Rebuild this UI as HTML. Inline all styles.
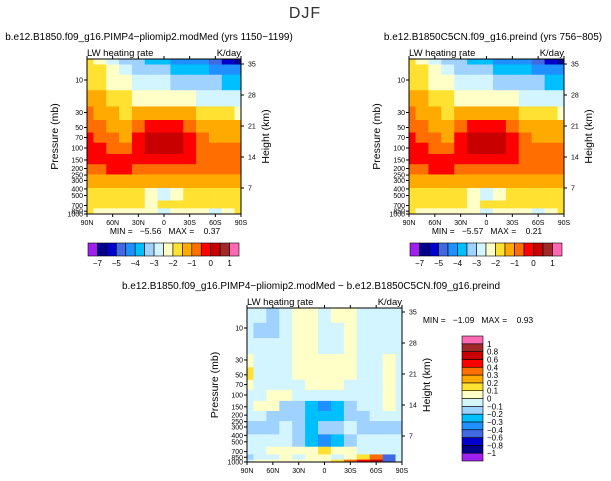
<!DOCTYPE html>
<html><head><meta charset="utf-8">
<style>
html,body{margin:0;padding:0;background:#fff;}
svg{display:block;font-family:"Liberation Sans",sans-serif;}
text{fill:#000;}
</style></head>
<body>
<svg id="chart" width="611" height="481" viewBox="0 0 611 481">
<text x="305" y="18" font-size="16" text-anchor="middle" style="letter-spacing:1px;fill:#333">DJF</text>
<g id="root"></g>
</svg>
<script>
const NS='http://www.w3.org/2000/svg';
const pressureLevels=[5,7,10,20,30,50,70,100,150,200,300,500,700,850,1000];
const latitudes=[90,75,60,45,30,15,0,-15,-30,-45,-60,-75,-90];
const pliValues=[
[-1.8,-2.2,-2.7,-3.2,-3.3,-3.7,-3.8,-4.2,-4.2,-4.3,-4.7,-5.5,-6.2],
[-1.7,-2.0,-2.4,-2.8,-3.1,-3.3,-3.4,-3.6,-3.8,-3.9,-4.1,-4.3,-4.4],
[-1.6,-1.8,-2.1,-2.4,-2.7,-2.9,-3.0,-3.1,-3.2,-3.3,-3.4,-3.6,-3.7],
[-1.3,-1.4,-1.7,-1.9,-2.1,-2.3,-2.4,-2.4,-2.5,-2.6,-2.6,-2.7,-2.7],
[-0.9,-1.1,-1.5,-1.6,-1.3,-1.2,-1.2,-1.3,-1.5,-1.7,-1.9,-2.0,-2.1],
[-0.7,-0.9,-1.1,-1.3,-0.6,-0.4,-0.4,-0.4,-0.6,-1.1,-1.3,-1.4,-1.4],
[-0.4,-0.6,-0.8,-1.1,-0.4,0.1,0.2,0.2,-0.3,-0.9,-1.1,-1.2,-1.2],
[-0.4,-0.5,-0.6,-0.9,-0.3,0.1,0.2,0.1,-0.3,-0.6,-0.9,-1.0,-1.0],
[-0.3,-0.3,-0.3,-0.3,-0.3,-0.3,-0.3,-0.3,-0.3,-0.6,-0.8,-0.9,-0.9],
[-0.6,-0.6,-0.5,-0.5,-0.6,-0.7,-0.7,-0.6,-0.6,-0.7,-0.8,-0.8,-0.8],
[-1.2,-1.2,-1.1,-1.1,-1.2,-1.3,-1.3,-1.3,-1.2,-1.1,-1.1,-1.1,-1.1],
[-1.7,-1.7,-1.7,-1.7,-1.8,-2.2,-2.6,-2.2,-1.9,-1.7,-1.6,-1.6,-1.6],
[-1.8,-1.7,-1.7,-1.8,-2.0,-2.3,-2.0,-1.6,-1.8,-1.7,-1.7,-1.7,-1.8],
[-1.7,-2.2,-2.4,-2.3,-2.2,-2.4,-2.6,-2.4,-2.2,-2.2,-2.6,-2.2,-1.8],
[-1.2,-1.3,-1.2,-1.2,-1.3,-1.2,-1.2,-1.1,-1.2,-1.3,-1.2,-1.2,-1.2]];
const preValues=[
[-1.8,-2.2,-2.7,-3.2,-3.3,-3.7,-3.8,-4.2,-4.2,-4.3,-4.7,-5.5,-6.2],
[-1.7,-2.0,-2.4,-2.8,-3.1,-3.3,-3.4,-3.6,-3.8,-3.9,-4.1,-4.3,-4.4],
[-1.6,-1.8,-2.1,-2.4,-2.7,-2.9,-3.0,-3.1,-3.2,-3.3,-3.4,-3.6,-3.7],
[-1.3,-1.4,-1.7,-1.9,-2.1,-2.3,-2.4,-2.4,-2.5,-2.6,-2.6,-2.7,-2.7],
[-0.9,-1.1,-1.5,-1.6,-1.3,-1.2,-1.2,-1.3,-1.5,-1.7,-1.9,-2.0,-2.1],
[-0.7,-0.9,-1.1,-1.3,-0.6,-0.4,-0.4,-0.4,-0.6,-1.1,-1.3,-1.4,-1.4],
[-0.4,-0.6,-0.8,-1.1,-0.4,0.1,0.2,0.2,-0.3,-0.9,-1.1,-1.2,-1.2],
[-0.4,-0.5,-0.6,-0.9,-0.3,0.1,0.2,0.1,-0.3,-0.6,-0.9,-1.0,-1.0],
[-0.3,-0.3,-0.3,-0.3,-0.3,-0.3,-0.3,-0.3,-0.3,-0.6,-0.8,-0.9,-0.9],
[-0.6,-0.6,-0.5,-0.5,-0.6,-0.7,-0.7,-0.6,-0.6,-0.7,-0.8,-0.8,-0.8],
[-1.2,-1.2,-1.1,-1.1,-1.2,-1.3,-1.3,-1.3,-1.2,-1.1,-1.1,-1.1,-1.1],
[-1.7,-1.7,-1.7,-1.7,-1.8,-2.2,-2.6,-2.2,-1.9,-1.7,-1.6,-1.6,-1.6],
[-1.8,-1.7,-1.7,-1.8,-2.0,-2.3,-2.0,-1.6,-1.8,-1.7,-1.7,-1.7,-1.8],
[-1.7,-2.2,-2.4,-2.3,-2.2,-2.4,-2.6,-2.4,-2.2,-2.2,-2.6,-2.2,-1.8],
[-1.2,-1.3,-1.2,-1.2,-1.3,-1.2,-1.2,-1.1,-1.2,-1.3,-1.2,-1.2,-1.2]];
const diffValues=[
[-0.05,-0.05,-0.15,-0.05,0.05,0.05,-0.05,0.05,0.05,-0.05,-0.05,-0.05,-0.05],
[-0.05,-0.05,-0.15,-0.05,0.05,0.05,-0.05,0.05,0.05,-0.05,-0.05,-0.05,-0.05],
[-0.05,-0.15,-0.15,-0.05,0.05,0.05,-0.05,-0.05,0.05,-0.05,-0.05,-0.05,-0.05],
[-0.05,-0.05,-0.05,-0.05,0.05,0.05,-0.05,-0.05,0.05,-0.05,-0.05,-0.05,-0.05],
[0.05,-0.05,-0.05,-0.05,0.05,0.05,0.05,0.05,0.05,-0.05,-0.05,0.05,-0.05],
[0.12,-0.05,-0.05,-0.05,0.05,0.05,0.05,0.05,0.05,-0.05,-0.05,0.05,-0.05],
[0.05,-0.05,-0.05,-0.05,-0.05,0.05,0.05,0.05,-0.05,-0.05,-0.05,0.05,-0.05],
[-0.05,-0.05,0.05,0.05,-0.05,-0.05,-0.05,-0.05,-0.05,-0.05,-0.05,0.05,-0.05],
[-0.05,0.05,0.05,-0.15,-0.15,-0.25,-0.35,-0.25,-0.15,-0.05,-0.05,0.05,-0.05],
[-0.05,-0.05,-0.15,-0.15,-0.15,-0.25,-0.25,-0.25,-0.15,-0.15,-0.05,-0.05,-0.05],
[-0.15,-0.15,-0.15,-0.05,-0.15,-0.25,-0.15,-0.15,-0.05,-0.15,-0.15,-0.15,-0.15],
[-0.05,-0.05,-0.05,-0.05,-0.15,-0.25,-0.35,-0.25,-0.15,-0.05,-0.05,-0.05,-0.05],
[-0.05,-0.05,0.05,0.05,0.05,0.05,0.15,0.05,0.05,-0.05,-0.05,-0.05,-0.05],
[-0.15,-0.05,-0.05,0.05,-0.05,0.05,0.05,-0.05,0.05,0.15,0.3,-0.5,-0.05],
[-0.05,0.05,0.05,0.05,0.05,0.05,0.05,0.15,0.3,0.5,0.7,-0.5,-0.05]];
const absLevels=[-7,-6,-5,-4.5,-4,-3.5,-3,-2.5,-2,-1.5,-1,-0.5,0,0.5,1];
const absLabels=['-7','','-5','','-4','','-3','','-2','','-1','','0','','1'];
const diffLevels=[-1,-0.8,-0.6,-0.4,-0.3,-0.2,-0.1,0,0.1,0.2,0.3,0.4,0.6,0.8,1];
const diffLabels=['-1','-0.8','-0.6','-0.4','-0.3','-0.2','-0.1','0','0.1','0.2','0.3','0.4','0.6','0.8','1'];
const colors=['#a020f0','#00008b','#0000cd','#4169e1','#1e90ff','#00bfff','#a0d2ff','#d2f5ff','#ffffc8','#ffe132','#ffaa00','#ff6e00','#ff0000','#c80000','#a02828','#ff69b4'];
const pTicks=[10,30,50,70,100,150,200,250,300,400,500,700,850,1000];
const latTicks=[90,60,30,0,-30,-60,-90];
const kmTicks=[7,14,21,28,35];
const root=document.getElementById('root');
function el(tag,attrs,parent,txt){const e=document.createElementNS(NS,tag);for(const k in attrs)e.setAttribute(k,attrs[k]);if(txt!==undefined)e.textContent=txt;(parent||root).appendChild(e);return e;}
function colorFor(v,levels){let i=0;while(i<levels.length&&v>=levels[i])i++;return colors[i];}
function latLabel(l){return l===0?'0':(Math.abs(l)+(l>0?'N':'S'));}
function minus(s){return s.replace(/-/g,'\u2212');}
function panel(name,x0,x1,y0,y1,y10,ppd,values,levels,top,titleX,kmTop,kmStep){
  const g=el('g',{},root);
  
  
  const yOf=p=>Math.max(y0,Math.min(y1,y10+ppd*(Math.log10(p)-1)));
  const xOf=l=>x0+(90-l)/180*(x1-x0);
  const n=pressureLevels.length,m=latitudes.length;
  for(let i=0;i<n;i++){
    const t=i===0?y0:yOf(Math.sqrt(pressureLevels[i-1]*pressureLevels[i]));
    const b=i===n-1?y1:yOf(Math.sqrt(pressureLevels[i]*pressureLevels[i+1]));
    for(let j=0;j<m;j++){
      const l=j===0?x0:xOf((latitudes[j-1]+latitudes[j])/2);
      const r=j===m-1?x1:xOf((latitudes[j]+latitudes[j+1])/2);
      const c=el('rect',{x:l.toFixed(2),y:t.toFixed(2),width:(r-l+0.4).toFixed(2),height:(b-t+0.4).toFixed(2),fill:colorFor(values[i][j],levels)},g);
      
      
    }
  }
  const fr=el('rect',{x:x0,y:y0,width:x1-x0,height:y1-y0,fill:'none',stroke:'#000','stroke-width':1},g);
  
  
  pTicks.forEach(p=>{const y=yOf(p);
    el('line',{x1:x0-3,x2:x0,y1:y,y2:y,stroke:'#000'},g);
    const t=el('text',{x:x0-4,y:y+2.5,'font-size':7,'text-anchor':'end'},g,String(p));
    
    
  });
  latTicks.forEach(l=>{const x=xOf(l);
    el('line',{x1:x,x2:x,y1:y1,y2:y1+3,stroke:'#000'},g);
    el('line',{x1:x,x2:x,y1:y0,y2:y0-3,stroke:'#000'},g);
    const t=el('text',{x:x,y:y1+11,'font-size':7,'text-anchor':'middle'},g,latLabel(l));
    
    
  });
  kmTicks.forEach(k=>{const y=kmTop+(35-k)/7*kmStep;
    el('line',{x1:x1,x2:x1+3,y1:y,y2:y,stroke:'#000'},g);
    const t=el('text',{x:x1+7,y:y+2.5,'font-size':7},g,String(k));
    
    
  });
  const pt=el('text',{transform:`translate(${x0-29},${(y0+y1)/2}) rotate(-90)`,'font-size':10.5,'text-anchor':'middle'},g,'Pressure (mb)');
  
  
  const ht=el('text',{transform:`translate(${x1+28},${(y0+y1)/2}) rotate(-90)`,'font-size':10.5,'text-anchor':'middle'},g,'Height (km)');
  
  
  const lw=el('text',{x:x0,y:y0-3,'font-size':9.5},g,'LW heating rate');
  
  
  const ku=el('text',{x:x1,y:y0-3,'font-size':9.5,'text-anchor':'end'},g,'K/day');
  
  
  const ti=el('text',{x:titleX,y:y0-19,'font-size':10,'text-anchor':'middle'},g,minus(top));
  
  
}
function hbar(name,x0,x1,y0,y1){
  const g=el('g',{},root);
  
  
  const w=(x1-x0)/colors.length;
  colors.forEach((c,i)=>{const r=el('rect',{x:x0+i*w,y:y0,width:w,height:y1-y0,fill:c,stroke:'#000','stroke-width':0.6},g);
    
    });
  absLabels.forEach((s,i)=>{if(!s)return;const t=el('text',{x:x0+(i+1)*w,y:y1+10,'font-size':8,'text-anchor':'middle'},g,minus(s));
    
    });
}
function vbar(name,x0,x1,y0,y1){
  const g=el('g',{},root);
  
  
  const h=(y1-y0)/colors.length;
  colors.forEach((c,i)=>{const r=el('rect',{x:x0,y:y1-(i+1)*h,width:x1-x0,height:h,fill:c,stroke:'#000','stroke-width':0.6},g);
    
    });
  diffLabels.forEach((s,i)=>{const t=el('text',{x:x1+4,y:y1-(i+1)*h+3,'font-size':8},g,minus(s));
    
    });
}
panel('pliocene-panel',87,241,59,214,80,68,pliValues,absLevels,'b.e12.B1850.f09_g16.PIMP4-pliomip2.modMed (yrs 1150-1199)',149,64,31);
panel('preindustrial-panel',409,564,59,214,80,68,preValues,absLevels,'b.e12.B1850C5CN.f09_g16.preind (yrs 756-805)',493,64,31);
panel('difference-panel',247,402,308,462,328,67,diffValues,diffLevels,'b.e12.B1850.f09_g16.PIMP4-pliomip2.modMed - b.e12.B1850C5CN.f09_g16.preind',311,312,31);
hbar('pliocene-colorbar',88,239,243,256);
hbar('preindustrial-colorbar',410,562,243,256);
vbar('difference-colorbar',462,483,336,461);
[[165,234,'MIN =   -5.56   MAX =    0.37','pliocene-min-max'],[487,234,'MIN =   -5.57   MAX =    0.21','preindustrial-min-max'],[478,323,'MIN =   -1.09   MAX =    0.93','difference-min-max']].forEach(a=>{
  const t=el('text',{x:a[0],y:a[1],'font-size':8.5,'text-anchor':'middle','xml:space':'preserve'},root,minus(a[2]));
  t.setAttribute('style','white-space:pre');
  
  
});
</script>
</body></html>
